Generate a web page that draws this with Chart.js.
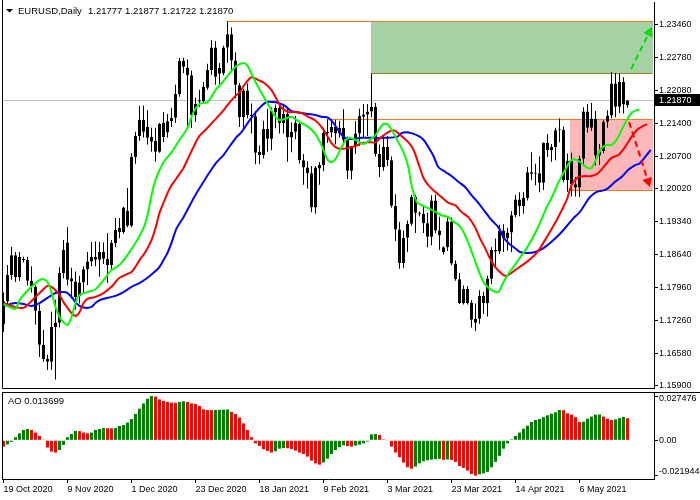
<!DOCTYPE html>
<html>
<head>
<meta charset="utf-8">
<script src="https://cdn.jsdelivr.net/npm/chart.js@4.4.0/dist/chart.umd.min.js"></script>
<style>
  body { margin: 0; background: #fff; }
  #wrap { position: relative; width: 700px; height: 500px; }
  canvas { position: absolute; left: 0; }
  #main { top: 0; }
  #ao { top: 390px; }
</style>
</head>
<body>
<div id="wrap">
  <canvas id="main" width="700" height="390"></canvas>
  <canvas id="ao" width="700" height="110"></canvas>
</div>
<script>
const FONT = "'Liberation Sans', Arial, sans-serif";
Chart.defaults.font.family = FONT;
Chart.defaults.font.size = 9;
Chart.defaults.color = '#000';

// time axis labels (every 16 bars)
const dateTicks = [0, 16, 32, 48, 64, 80, 96, 112, 128, 144];
const dateLabels = ['19 Oct 2020', '9 Nov 2020', '1 Dec 2020', '23 Dec 2020', '18 Jan 2021',
  '9 Feb 2021', '3 Mar 2021', '23 Mar 2021', '14 Apr 2021', '6 May 2021'];

const priceTicks = [1.159, 1.1658, 1.1726, 1.1796, 1.1864, 1.1934, 1.2002, 1.207, 1.214, 1.2208, 1.2278, 1.2346];
const aoTicks = [-0.021944, 0, 0.027476];
const aoTickLabels = ['-0.021944', '0.00', '0.027476'];

// EURUSD daily candles
const open = [
  1.1718,1.1767,1.1822,1.1863,1.1817,1.1855,1.1853,1.1810,1.1797,1.1747,
  1.1676,1.1646,1.1640,1.1713,1.1722,1.1826,1.1890,1.1815,1.1808,1.1778,
  1.1806,1.1834,1.1850,1.1860,1.1854,1.1870,1.1856,1.1843,1.1889,1.1920,
  1.1912,1.1956,1.1925,1.2069,1.2113,1.2147,1.2132,1.2111,1.2103,1.2080,
  1.2140,1.2120,1.2144,1.2151,1.2201,1.2270,1.2256,1.2240,1.2157,1.2188,
  1.2185,1.2214,1.2251,1.2298,1.2256,1.2245,1.2298,1.2326,1.2271,1.2219,
  1.2152,1.2208,1.2157,1.2154,1.2080,1.2073,1.2128,1.2107,1.2162,1.2172,
  1.2140,1.2159,1.2110,1.2122,1.2138,1.2062,1.2047,1.2035,1.1963,1.2045,
  1.2052,1.2119,1.2120,1.2132,1.2118,1.2130,1.2105,1.2040,1.2092,1.2118,
  1.2153,1.2158,1.2164,1.2174,1.2075,1.2048,1.2090,1.2062,1.1967,1.1917,
  1.1847,1.1900,1.1929,1.1985,1.1952,1.1950,1.1930,1.1902,1.1978,1.1915,
  1.1870,1.1880,1.1934,1.1846,1.1813,1.1763,1.1793,1.1763,1.1722,1.1730,
  1.1778,1.1763,1.1814,1.1874,1.1871,1.1915,1.1899,1.1911,1.1947,1.1980,
  1.1966,1.1983,1.2037,1.2034,1.2035,1.2015,1.2098,1.2083,1.2090,1.2125,
  1.2126,1.2020,1.2061,1.2012,1.2005,1.2065,1.2164,1.2130,1.2149,1.2072,
  1.2081,1.2143,1.2156,1.2223,1.2174,1.2226,1.21777];
const high = [
  1.1785,1.1843,1.1881,1.1870,1.1870,1.1860,1.1860,1.1840,1.1800,1.1760,
  1.1707,1.1655,1.1745,1.1770,1.1838,1.1895,1.1922,1.1837,1.1829,1.1820,
  1.1840,1.1870,1.1891,1.1892,1.1891,1.1890,1.1910,1.1895,1.1941,1.1941,
  1.1965,1.2004,1.2077,1.2122,1.2176,1.2177,1.2167,1.2130,1.2130,1.2140,
  1.2163,1.2159,1.2172,1.2220,1.2276,1.2277,1.2273,1.2250,1.2193,1.2210,
  1.2226,1.2264,1.2314,1.2312,1.2266,1.2302,1.2353,1.2340,1.2288,1.2224,
  1.2212,1.2223,1.2181,1.2165,1.2093,1.2145,1.2170,1.2173,1.2179,1.2180,
  1.2177,1.2170,1.2141,1.2155,1.2145,1.2075,1.2060,1.2050,1.2050,1.2058,
  1.2130,1.2148,1.2149,1.2147,1.2145,1.2169,1.2112,1.2092,1.2144,1.2170,
  1.2180,1.2180,1.2244,1.2182,1.2095,1.2113,1.2113,1.2070,1.1991,1.1933,
  1.1915,1.1936,1.1990,1.1990,1.1955,1.1966,1.1952,1.1989,1.1990,1.1944,
  1.1882,1.1943,1.1942,1.1852,1.1826,1.1800,1.1799,1.1769,1.1762,1.1790,
  1.1787,1.1820,1.1880,1.1898,1.1927,1.1928,1.1921,1.1956,1.1990,1.1995,
  1.1995,1.2048,1.2079,1.2055,1.2070,1.2100,1.2117,1.2096,1.2130,1.2150,
  1.2133,1.2076,1.2078,1.2027,1.2072,1.2173,1.2180,1.2182,1.2165,1.2096,
  1.2146,1.2167,1.2247,1.2245,1.2243,1.2236,1.21877];
const low = [
  1.1703,1.1760,1.1812,1.1807,1.1810,1.1848,1.1800,1.1785,1.1718,1.1650,
  1.1640,1.1623,1.1623,1.1603,1.1712,1.1815,1.1800,1.1772,1.1749,1.1762,
  1.1783,1.1801,1.1840,1.1840,1.1818,1.1845,1.1805,1.1835,1.1880,1.1899,
  1.1908,1.1922,1.1922,1.2055,1.2103,1.2110,1.2095,1.2080,1.2059,1.2078,
  1.2100,1.2110,1.2132,1.2140,1.2195,1.2245,1.2130,1.2130,1.2142,1.2174,
  1.2183,1.2210,1.2241,1.2220,1.2220,1.2240,1.2266,1.2250,1.2192,1.2132,
  1.2130,1.2150,1.2118,1.2054,1.2054,1.2066,1.2080,1.2083,1.2129,1.2118,
  1.2118,1.2059,1.2079,1.2106,1.2055,1.2011,1.2003,1.1953,1.1950,1.2011,
  1.2039,1.2098,1.2110,1.2095,1.2110,1.2100,1.2023,1.2022,1.2075,1.2092,
  1.2110,1.2113,1.2152,1.2070,1.2027,1.2040,1.2050,1.1963,1.1893,1.1835,
  1.1836,1.1870,1.1925,1.1910,1.1945,1.1910,1.1880,1.1884,1.1910,1.1874,
  1.1865,1.1872,1.1842,1.1810,1.1761,1.1760,1.1760,1.1712,1.1704,1.1720,
  1.1740,1.1735,1.1803,1.1838,1.1866,1.1870,1.1873,1.1870,1.1943,1.1945,
  1.1950,1.1978,1.2020,1.2010,1.1995,1.2000,1.2069,1.2059,1.2062,1.2100,
  1.2016,1.1996,1.1986,1.1986,1.1985,1.2052,1.2120,1.2124,1.2051,1.2052,
  1.2077,1.2130,1.2150,1.2152,1.2161,1.2160,1.21722];
const close = [
  1.1767,1.1822,1.1863,1.1817,1.1860,1.1853,1.1810,1.1797,1.1747,1.1676,
  1.1646,1.1640,1.1713,1.1722,1.1826,1.1874,1.1812,1.1808,1.1776,1.1806,
  1.1834,1.1850,1.1860,1.1854,1.1870,1.1856,1.1843,1.1889,1.1916,1.1912,
  1.1963,1.1925,1.2069,1.2113,1.2147,1.2122,1.2109,1.2101,1.2080,1.2138,
  1.2111,1.2144,1.2151,1.2201,1.2270,1.2258,1.2240,1.2157,1.2180,1.2185,
  1.2216,1.2251,1.2298,1.2237,1.2243,1.2298,1.2326,1.2271,1.2220,1.2152,
  1.2208,1.2157,1.2154,1.2078,1.2073,1.2128,1.2107,1.2165,1.2172,1.2140,
  1.2159,1.2111,1.2122,1.2140,1.2062,1.2047,1.2035,1.1963,1.2047,1.2052,
  1.2119,1.2120,1.2132,1.2118,1.2130,1.2105,1.2040,1.2092,1.2118,1.2155,
  1.2158,1.2164,1.2174,1.2075,1.2048,1.2090,1.2062,1.1967,1.1917,1.1847,
  1.1900,1.1929,1.1985,1.1952,1.1950,1.1930,1.1902,1.1978,1.1915,1.1905,
  1.1880,1.1934,1.1846,1.1813,1.1763,1.1793,1.1763,1.1728,1.1730,1.1778,
  1.1763,1.1814,1.1874,1.1871,1.1915,1.1899,1.1911,1.1947,1.1980,1.1966,
  1.1983,1.2037,1.2034,1.2035,1.2015,1.2098,1.2083,1.2090,1.2125,1.2126,
  1.2020,1.2061,1.2012,1.2005,1.2065,1.2164,1.2130,1.2149,1.2072,1.2081,
  1.2143,1.2156,1.2223,1.2174,1.2226,1.2179,1.21870];

// Awesome Oscillator, one value per bar
const ao = [
  -0.0039,-0.0025,-0.0010,0.0019,0.0043,0.0064,0.0070,0.0064,0.0048,0.0027,
  0.0002,-0.0045,-0.0070,-0.0076,-0.0060,-0.0029,0.0019,0.0039,0.0058,0.0057,
  0.0048,0.0043,0.0048,0.0064,0.0070,0.0076,0.0075,0.0074,0.0076,0.0089,
  0.0095,0.0110,0.0132,0.0163,0.0196,0.0229,0.0258,0.02748,0.0271,0.0254,
  0.0244,0.0238,0.0234,0.0233,0.0238,0.0242,0.0238,0.0229,0.0225,0.0213,
  0.0192,0.0188,0.0187,0.0188,0.0189,0.0190,0.0191,0.0176,0.0163,0.0141,
  0.0105,0.0064,0.0019,-0.0019,-0.0035,-0.0056,-0.0066,-0.0076,-0.0068,-0.0052,
  -0.0048,-0.0049,-0.0054,-0.0064,-0.0076,-0.0085,-0.0101,-0.0126,-0.0143,-0.0151,
  -0.0138,-0.0114,-0.0085,-0.0060,-0.0043,-0.0031,-0.0035,-0.0039,-0.0033,-0.0027,
  -0.0019,-0.0008,0.0037,0.0039,0.0033,0.0006,-0.0002,-0.0039,-0.0076,-0.0105,
  -0.0138,-0.0167,-0.0176,-0.0163,-0.0143,-0.0130,-0.0124,-0.0120,-0.0117,-0.0115,
  -0.0121,-0.0119,-0.0122,-0.0134,-0.0159,-0.0171,-0.0188,-0.0209,-0.02194,-0.0211,
  -0.0205,-0.0196,-0.0167,-0.0134,-0.0097,-0.0052,-0.0019,0.0006,0.0027,0.0048,
  0.0072,0.0091,0.0114,0.0126,0.0132,0.0143,0.0155,0.0165,0.0174,0.0188,
  0.0187,0.0167,0.0159,0.0143,0.0114,0.0115,0.0134,0.0147,0.0159,0.0160,
  0.0147,0.0134,0.0126,0.0130,0.0138,0.0145,0.013699];

// Alligator lines (bar position, price)
const lipsX = [0,2,3,4,5,7,9,10,11,12,13,14,15,16,17,18,19,21,23,25,27,29,31,33,35,36,37,38,40,42,44,46,47.5,49,51,53,55,56.6,58.3,60,61,62,63,64.5,66.2,68,69,70.4,72,73.3,74.5,76.2,78,79.5,80.8,82,83.3,84.5,86.2,88,90,91.6,93,94,95,96.2,97.5,98.7,100,101.2,102,103.3,104.5,106.2,108,109.5,111.2,112.5,113.7,115,116.2,117.5,118.7,120,121.2,122.5,123.7,125,126.2,127.5,129,130.8,133.3,135.8,137,138.7,140.8,142,143.3,144.5,146,147,148.3,149.5,150.8,152,153.3,154.5,155.8,157,158.3,159];
const lips = [1.1761,1.1753,1.1751,1.1769,1.1780,1.1797,1.1811,1.1813,1.1807,1.1786,1.1755,1.1734,1.1723,1.1717,1.1734,1.1763,1.1780,1.1786,1.1792,1.1811,1.1832,1.1843,1.1864,1.1889,1.1920,1.1947,1.1989,1.2021,1.2058,1.2079,1.2105,1.2130,1.2163,1.2180,1.2184,1.2209,1.2228,1.2245,1.2260,1.2266,1.2260,1.2243,1.2226,1.2203,1.2178,1.2153,1.2146,1.2149,1.2153,1.2146,1.2140,1.2132,1.2117,1.2094,1.2067,1.2058,1.2069,1.2090,1.2109,1.2105,1.2096,1.2105,1.2115,1.2128,1.2138,1.2136,1.2119,1.2100,1.2079,1.2048,1.2010,1.1975,1.1968,1.1962,1.1954,1.1947,1.1943,1.1933,1.1927,1.1912,1.1889,1.1860,1.1832,1.1807,1.1795,1.1788,1.1786,1.1807,1.1824,1.1839,1.1857,1.1878,1.1916,1.1964,1.1983,1.2015,1.2048,1.2063,1.2063,1.2056,1.2046,1.2046,1.2067,1.2088,1.2094,1.2094,1.2105,1.2125,1.2146,1.2161,1.2167,1.2167];

const teethX = [0,2,4,5,6,8,10,11,12,13,14,15,16,17,18,19,20,21,23,25,27,28,29,31,32,33,34,35,36,37,38,39,40,41.6,43.3,45,46.2,47.5,49,50.8,52.5,54,55.5,56.6,58,59.1,60.2,62,63.7,65.2,67,68.3,69.5,71.2,72.9,74.5,76.2,77.9,79.5,80.8,82,83.3,84.5,86.2,88,89.5,91.2,93,94.5,96.2,97.5,98.7,100,101.2,102.5,103.7,105,106.2,107.9,109.5,111.2,112.9,114.5,116.2,117.9,119.1,120.4,121.6,122.9,124.1,125.4,126.6,127.9,129.1,130.8,133.3,135.8,138.3,140.8,142,143.7,145.4,147,148.6,150.4,152,153.7,155.4,157,158.3,159.1,160.9];
const teeth = [1.1763,1.1757,1.1753,1.1753,1.1759,1.1776,1.1792,1.1799,1.1797,1.1790,1.1780,1.1765,1.1753,1.1742,1.1736,1.1744,1.1763,1.1772,1.1776,1.1784,1.1797,1.1807,1.1816,1.1824,1.1828,1.1839,1.1853,1.1864,1.1878,1.1895,1.1920,1.1952,1.1973,1.2004,1.2025,1.2046,1.2067,1.2090,1.2113,1.2128,1.2144,1.2157,1.2172,1.2184,1.2197,1.2205,1.2220,1.2236,1.2230,1.2224,1.2209,1.2190,1.2172,1.2163,1.2163,1.2161,1.2153,1.2146,1.2132,1.2115,1.2098,1.2088,1.2086,1.2088,1.2092,1.2098,1.2100,1.2100,1.2111,1.2121,1.2125,1.2119,1.2109,1.2100,1.2084,1.2056,1.2025,1.2010,1.1996,1.1985,1.1973,1.1968,1.1954,1.1943,1.1922,1.1899,1.1878,1.1857,1.1839,1.1828,1.1820,1.1824,1.1832,1.1839,1.1849,1.1868,1.1901,1.1937,1.1979,1.2010,1.2027,1.2029,1.2029,1.2035,1.2052,1.2067,1.2073,1.2090,1.2111,1.2125,1.2130,1.2138];

const jawX = [0,3,5,7,9,11,13,15,16,17,18,19,20.5,22,23,24,26,28,30,32,34,36,38,39,40,41,42,43.3,45,46.6,48.3,50,51.6,53.3,55,56.6,58.3,59.5,61.2,62.9,64.5,65.8,67.5,68.7,70.4,71.6,72.9,74.5,76.2,77.9,79.5,81.2,82.5,83.7,85,86.2,88,89.5,91.2,93,95.4,98.4,99.5,100.8,102,103.7,105,106.2,107.5,108.7,110.4,112,113.7,115.4,117,118.7,120.4,122,123.7,125,126.2,127.9,129.1,131,133,135,137.5,140,142.5,144.1,146.6,148.3,150,151.2,152.9,154.5,156.2,157.9,159.1,161.8];
const jaw = [1.1757,1.1763,1.1761,1.1757,1.1763,1.1774,1.1784,1.1786,1.1784,1.1776,1.1765,1.1757,1.1753,1.1755,1.1763,1.1769,1.1774,1.1778,1.1786,1.1797,1.1805,1.1816,1.1830,1.1839,1.1853,1.1868,1.1889,1.1920,1.1943,1.1968,1.1994,1.2017,1.2038,1.2058,1.2073,1.2092,1.2111,1.2121,1.2142,1.2161,1.2176,1.2184,1.2184,1.2182,1.2176,1.2167,1.2163,1.2161,1.2159,1.2157,1.2153,1.2151,1.2140,1.2125,1.2111,1.2107,1.2107,1.2109,1.2109,1.2109,1.2109,1.2111,1.2119,1.2121,1.2119,1.2113,1.2105,1.2090,1.2071,1.2048,1.2038,1.2029,1.2017,1.2006,1.1989,1.1973,1.1954,1.1937,1.1922,1.1901,1.1889,1.1878,1.1870,1.1868,1.1870,1.1878,1.1895,1.1916,1.1941,1.1954,1.1985,1.1996,1.1999,1.2004,1.2017,1.2027,1.2042,1.2052,1.2056,1.2084];

// drawn objects
const buyZone = { fromBar: 91.9, toBar: 162.3, low: 1.2244, high: 1.2353 };
const sellZone = { fromBar: 141.6, toBar: 162.3, low: 1.2000, high: 1.2148 };
const levels = [
  { fromBar: 56, price: 1.2353, color: '#f07a1e' },
  { fromBar: 91.9, price: 1.2244, color: '#9a8026' },
  { fromBar: 81.2, price: 1.2148, color: '#f07a1e' },
  { fromBar: 141.6, price: 1.2000, color: '#f07a1e' }
];
const upArrow = { from: [156.9, 1.2253], to: [162.1, 1.2341] };
const downArrow = { from: [156.4, 1.2142], to: [161.6, 1.2006] };
const lastPrice = 1.2187;

const bars = close.map((_, i) => i);
const pts = (xs, ys) => xs.map((x, i) => ({ x: x, y: ys[i] }));
const xRange = { min: -0.375, max: 162.625 };

// keep Chart.js from shrinking the plot to make room for edge labels
function noPad(s) { s.paddingTop = 0; s.paddingBottom = 0; s.paddingLeft = 0; s.paddingRight = 0; }

function hline(ctx, x0, x1, y, color) {
  const yy = Math.round(y) + 0.5;
  ctx.strokeStyle = color;
  ctx.lineWidth = 1;
  ctx.beginPath(); ctx.moveTo(x0, yy); ctx.lineTo(x1, yy); ctx.stroke();
}

function arrow(ctx, x0, y0, x1, y1, color) {
  const ang = Math.atan2(y1 - y0, x1 - x0);
  const len = 9, half = 5;
  const bx = x1 - len * Math.cos(ang), by = y1 - len * Math.sin(ang);
  ctx.save();
  ctx.strokeStyle = color; ctx.fillStyle = color; ctx.lineWidth = 2;
  ctx.setLineDash([6, 4]);
  ctx.beginPath(); ctx.moveTo(x0, y0); ctx.lineTo(bx, by); ctx.stroke();
  ctx.setLineDash([]);
  ctx.beginPath();
  ctx.moveTo(x1, y1);
  ctx.lineTo(bx + half * Math.sin(ang), by - half * Math.cos(ang));
  ctx.lineTo(bx - half * Math.sin(ang), by + half * Math.cos(ang));
  ctx.closePath(); ctx.fill();
  ctx.restore();
}

const mainDecor = {
  id: 'mainDecor',
  beforeDatasetsDraw(chart) {
    const { ctx, chartArea: a, scales: { x, y } } = chart;
    ctx.save();
    [[buyZone, '#a4d2a4'], [sellZone, '#fcb8b8']].forEach(([z, c]) => {
      const x0 = Math.round(x.getPixelForValue(z.fromBar));
      const x1 = Math.round(x.getPixelForValue(z.toBar));
      const y0 = Math.round(y.getPixelForValue(z.high));
      const y1 = Math.round(y.getPixelForValue(z.low));
      ctx.fillStyle = c;
      ctx.fillRect(x0, y0, x1 - x0, y1 - y0);
    });
    hline(ctx, a.left, a.right, y.getPixelForValue(lastPrice) - 1, '#c0c0c0');
    levels.forEach(l => {
      hline(ctx, x.getPixelForValue(l.fromBar), x.getPixelForValue(buyZone.toBar), y.getPixelForValue(l.price), l.color);
    });
    ctx.restore();
  },
  afterDatasetsDraw(chart) {
    const { ctx, scales: { x, y } } = chart;
    [[upArrow, '#00e000'], [downArrow, '#ff0000']].forEach(([ar, c]) => {
      arrow(ctx, x.getPixelForValue(ar.from[0]), y.getPixelForValue(ar.from[1]),
        x.getPixelForValue(ar.to[0]), y.getPixelForValue(ar.to[1]), c);
    });
  },
  afterDraw(chart) {
    const { ctx, chartArea: a, scales: { y } } = chart;
    ctx.save();
    ctx.strokeStyle = '#000';
    ctx.lineWidth = 1;
    ctx.beginPath();
    ctx.moveTo(a.left + 0.5, 0); ctx.lineTo(a.left + 0.5, a.bottom + 0.5);
    ctx.lineTo(a.right, a.bottom + 0.5);
    ctx.stroke();
    // title
    ctx.fillStyle = '#000';
    ctx.beginPath(); ctx.moveTo(6, 9); ctx.lineTo(13, 9); ctx.lineTo(9.5, 12.5); ctx.closePath(); ctx.fill();
    ctx.font = '9.5px ' + FONT;
    ctx.textBaseline = 'middle';
    ctx.fillText('EURUSD,Daily', 18, 11);
    ctx.fillText('1.21777 1.21877 1.21722 1.21870', 88, 11);
    // last price tag
    const py = Math.round(y.getPixelForValue(lastPrice)) - 1;
    ctx.fillRect(a.right + 1, py - 6, 700 - a.right - 1, 12);
    ctx.fillStyle = '#fff';
    ctx.font = '9px ' + FONT;
    ctx.fillText(lastPrice.toFixed(5), a.right + 5, py + 0.5);
    ctx.restore();
  }
};

new Chart(document.getElementById('main'), {
  type: 'bar',
  data: {
    datasets: [
      { type: 'line', data: pts(lipsX, lips), borderColor: '#00ff00', borderWidth: 2, pointRadius: 0, tension: 0.3, order: 0 },
      { type: 'line', data: pts(teethX, teeth), borderColor: '#ff0000', borderWidth: 2, pointRadius: 0, tension: 0.3, order: 0 },
      { type: 'line', data: pts(jawX, jaw), borderColor: '#0000ff', borderWidth: 2, pointRadius: 0, tension: 0.3, order: 0 },
      {
        data: bars.map(i => ({ x: i, y: [open[i], close[i]] })),
        backgroundColor: bars.map(i => close[i] >= open[i] ? 'rgba(0,0,0,0)' : '#000'),
        borderColor: '#000', borderWidth: 1, borderSkipped: false,
        barThickness: 3, minBarLength: 1, grouped: false, inflateAmount: 0, order: 1
      },
      {
        data: bars.map(i => ({ x: i, y: [low[i], high[i]] })),
        backgroundColor: '#000', borderWidth: 0,
        barThickness: 1, grouped: false, inflateAmount: 0, order: 2
      }
    ]
  },
  options: {
    responsive: false, devicePixelRatio: 1, animation: false,
    layout: { padding: { left: 2, top: 2, bottom: 2, right: 0 } },
    plugins: { legend: { display: false }, tooltip: { enabled: false } },
    scales: {
      x: { type: 'linear', min: xRange.min, max: xRange.max, offset: false, display: false },
      y: {
        position: 'right', min: 1.15852, max: 1.23935,
        afterFit: s => { s.width = 46; noPad(s); },
        afterBuildTicks: s => { s.ticks = priceTicks.map(v => ({ value: v })); },
        ticks: { callback: v => v.toFixed(5), padding: 1, autoSkip: false },
        grid: { drawOnChartArea: false, tickLength: 4, color: '#000' },
        border: { color: '#000' }
      }
    }
  },
  plugins: [mainDecor]
});

// AO scale labels: top and bottom labels sit just inside the panel, as in the terminal
const aoLabelNudge = [-4, 0, 3];

const aoDecor = {
  id: 'aoDecor',
  afterDraw(chart) {
    const { ctx, chartArea: a, scales: { y } } = chart;
    ctx.save();
    ctx.strokeStyle = '#000';
    ctx.lineWidth = 1;
    ctx.beginPath();
    ctx.moveTo(a.left, a.top + 0.5); ctx.lineTo(700, a.top + 0.5);
    ctx.moveTo(a.left + 0.5, a.top); ctx.lineTo(a.left + 0.5, a.bottom);
    ctx.stroke();
    ctx.fillStyle = '#000';
    ctx.font = '9.5px ' + FONT;
    ctx.textBaseline = 'middle';
    ctx.fillText('AO ' + ao[ao.length - 1].toFixed(6), 8, 11);
    ctx.font = '9px ' + FONT;
    aoTicks.forEach((v, i) => {
      ctx.fillText(aoTickLabels[i], a.right + 5, y.getPixelForValue(v) + aoLabelNudge[i]);
    });
    ctx.restore();
  }
};

new Chart(document.getElementById('ao'), {
  type: 'bar',
  data: {
    datasets: [{
      data: ao.map((v, i) => ({ x: i, y: v })),
      backgroundColor: ao.map((v, i) => (i > 0 && v > ao[i - 1]) ? '#008000' : '#ff0000'),
      borderWidth: 0, barThickness: 3, inflateAmount: 0
    }]
  },
  options: {
    responsive: false, devicePixelRatio: 1, animation: false,
    layout: { padding: { left: 2, top: 2, bottom: 0, right: 0 } },
    plugins: { legend: { display: false }, tooltip: { enabled: false } },
    scales: {
      x: {
        type: 'linear', min: xRange.min, max: xRange.max, offset: false,
        afterFit: s => { s.height = 21; noPad(s); },
        afterBuildTicks: s => { s.ticks = dateTicks.map(v => ({ value: v })); },
        ticks: { callback: (v, i) => dateLabels[i], align: 'start', maxRotation: 0, autoSkip: false, padding: 1 },
        grid: { drawOnChartArea: false, tickLength: 4, color: '#000', offset: false },
        border: { color: '#000' }
      },
      y: {
        position: 'right', min: -0.02401, max: 0.02996,
        afterFit: s => { s.width = 46; noPad(s); },
        afterBuildTicks: s => { s.ticks = aoTicks.map(v => ({ value: v })); },
        ticks: { display: false },
        grid: { drawOnChartArea: false, tickLength: 4, color: '#000' },
        border: { color: '#000' }
      }
    }
  },
  plugins: [aoDecor]
});
</script>
</body>
</html>
